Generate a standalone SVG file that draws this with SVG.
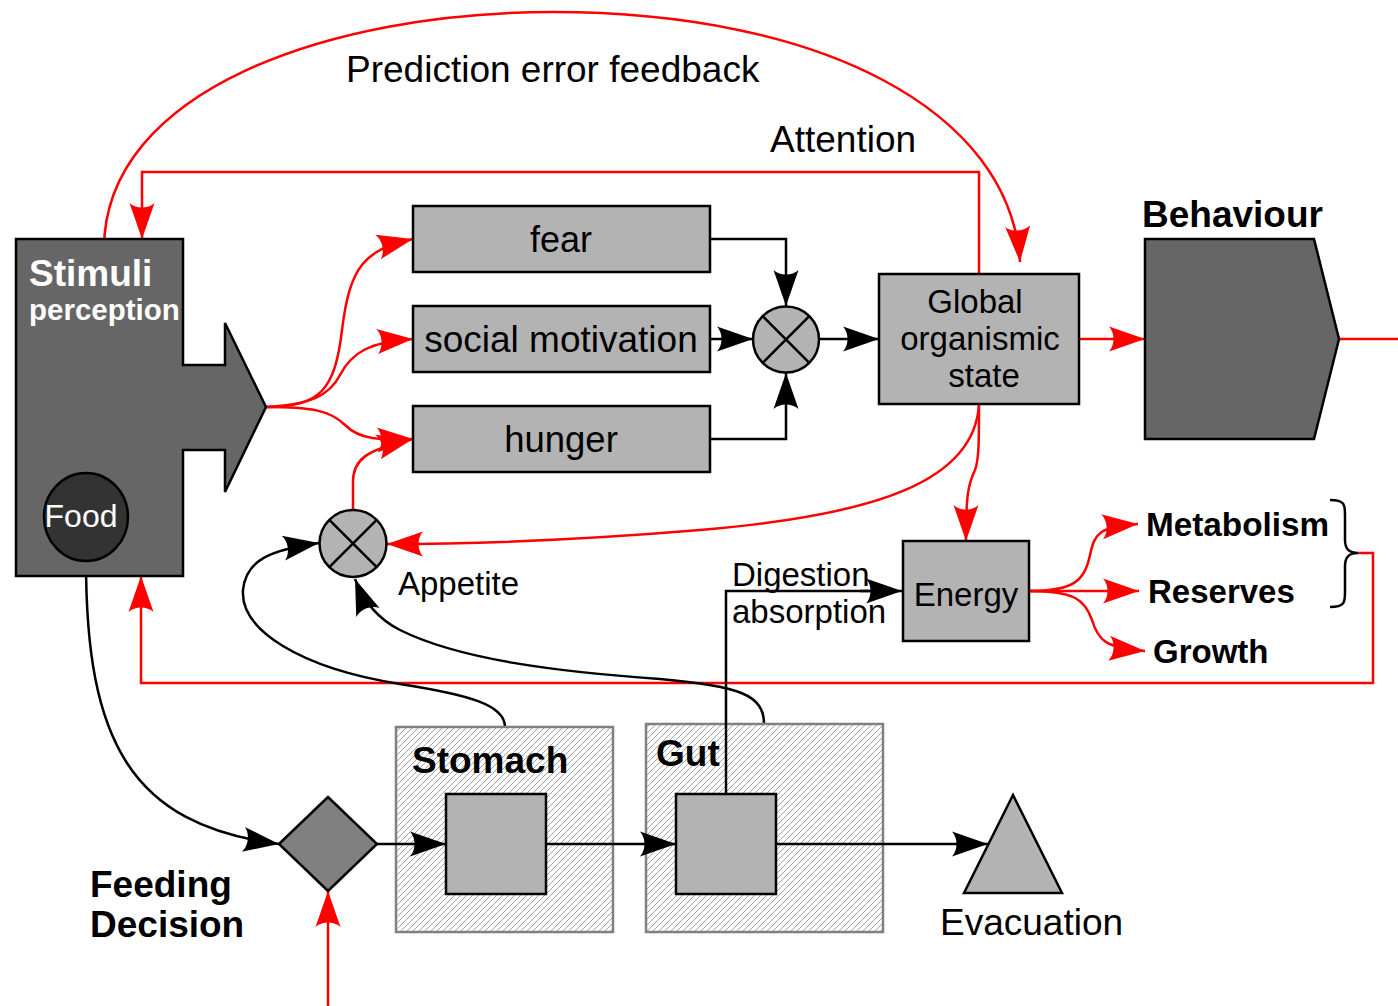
<svg xmlns="http://www.w3.org/2000/svg" width="1398" height="1006" viewBox="0 0 1398 1006">
<style>
.box{fill:#b3b3b3;stroke:#000;stroke-width:2.5}
.dark{fill:#666;stroke:#000;stroke-width:2.5}
.hatch{fill:url(#hp);stroke:#808080;stroke-width:2.5}
.t{font-family:"Liberation Sans",Arial,sans-serif;fill:#000}
.b{font-family:"Liberation Sans",Arial,sans-serif;font-weight:bold;fill:#000}
.k{fill:none;stroke:#000;stroke-width:2.5}
.r{fill:none;stroke:#f00;stroke-width:2.5}
.ka{marker-end:url(#ak)}
.ra{marker-end:url(#ar)}
</style>
<defs>
<marker id="ak" markerUnits="userSpaceOnUse" viewBox="-38 -14 40 28" markerWidth="40" markerHeight="28" refX="0" refY="0" orient="auto">
<path d="M0,0 L-36,-12.5 C-30,-6 -30,6 -36,12.5 Z" fill="#000"/>
</marker>
<marker id="ar" markerUnits="userSpaceOnUse" viewBox="-38 -14 40 28" markerWidth="40" markerHeight="28" refX="0" refY="0" orient="auto">
<path d="M0,0 L-36,-12.5 C-30,-6 -30,6 -36,12.5 Z" fill="#f00"/>
</marker>
<pattern id="hp" patternUnits="userSpaceOnUse" width="6" height="6">
<rect width="6" height="6" fill="#fff"/>
<path d="M0,6 L6,0 M-1,1 L1,-1 M5,7 L7,5" stroke="#999" stroke-width="0.9"/>
</pattern>
</defs>

<g id="connectors">
<path class="r ra" d="M104,249 C104,90 330,12 553,12 C820,12 1010,110 1020,262"/>
<path class="r ra" d="M979,274 L979,172 L142,172 L142,239"/>
<path class="r ra" d="M266,407 C320,407 335,390 342,330 C350,265 365,250 413,239"/>
<path class="r ra" d="M266,407 C310,405 330,395 340,375 C352,352 370,342 413,339"/>
<path class="r ra" d="M266,407 C310,407 330,410 345,425 C360,440 380,440 413,439"/>
<path class="r ra" d="M353,510 L353,482 C353,460 365,450 413,439"/>
<path class="r ra" d="M979,404 C975,480 880,515 700,530 C580,540 480,544 387,544"/>
<path class="r ra" d="M979,404 C979,440 979,460 975,470 C968,485 966,495 966,541"/>
<path class="r ra" d="M1079,339 L1145,339"/>
<path class="r" d="M1339,339 L1398,339"/>
<path class="r ra" d="M1029,591 C1075,591 1085,580 1090,555 C1095,532 1100,527 1138,524"/>
<path class="r ra" d="M1029,591 L1139,591"/>
<path class="r ra" d="M1029,591 C1075,591 1085,600 1092,620 C1098,640 1105,648 1145,651"/>
<path class="r ra" d="M1358,553 L1373,553 L1373,683 L141,683 L141,576"/>
<path class="r ra" d="M328,1006 L328,891"/>
<path class="k" d="M1330,500 C1345,500 1345,505 1345,515 L1345,540 C1345,550 1350,553 1358,553 C1350,553 1345,556 1345,566 L1345,592 C1345,602 1345,607 1330,607" stroke-width="2"/>
<path class="k ka" d="M710,239 L786,239 L786,306"/>
<path class="k ka" d="M710,339 L753,339"/>
<path class="k ka" d="M710,439 L786,439 L786,373"/>
<path class="k ka" d="M819,339 L879,339"/>
<path class="k ka" d="M505,727 C505,705 470,695 400,684 C300,668 240,630 243,590 C246,560 270,550 319,543"/>
<path class="k ka" d="M764,724 C764,695 740,686 660,679 C560,672 460,660 400,630 C380,620 365,605 355,579"/>
<path class="k ka" d="M86,561 C86,740 130,825 279,844"/>
</g>

<g id="stimuli">
<path class="dark" d="M16,239 L183,239 L183,365 L225,365 L225,323 L266,407 L225,492 L225,450 L183,450 L183,576 L16,576 Z"/>
<text x="29" y="286" font-size="37" class="b" style="fill:#fff">Stimuli</text>
<text x="29" y="320" font-size="29.5" class="b" style="fill:#fff">perception</text>
</g>
<g id="food">
<ellipse cx="86" cy="517" rx="42" ry="44" fill="#333" stroke="#000" stroke-width="2.5"/>
<text x="81" y="527" font-size="32" class="t" text-anchor="middle" style="fill:#fff">Food</text>
</g>
<g id="fear">
<rect class="box" x="413" y="206" width="297" height="66"/>
<text x="561" y="252" font-size="36" class="t" text-anchor="middle">fear</text>
</g>
<g id="social">
<rect class="box" x="413" y="306" width="297" height="66"/>
<text x="561" y="352" font-size="37" class="t" text-anchor="middle">social motivation</text>
</g>
<g id="hunger">
<rect class="box" x="413" y="406" width="297" height="66"/>
<text x="561" y="452" font-size="36.5" class="t" text-anchor="middle">hunger</text>
</g>
<g id="sum">
<circle cx="786" cy="339.5" r="33" class="box"/>
<path d="M762.7,316.2 L809.3,362.8 M809.3,316.2 L762.7,362.8" stroke="#000" stroke-width="2.5"/>
</g>
<g id="global">
<rect class="box" x="879" y="274" width="200" height="130"/>
<text x="975" y="313" font-size="33" class="t" text-anchor="middle">Global</text>
<text x="980" y="350" font-size="33" class="t" text-anchor="middle">organismic</text>
<text x="984" y="387" font-size="33" class="t" text-anchor="middle">state</text>
</g>
<g id="behaviour">
<polygon class="dark" points="1145,239 1314,239 1339,339 1314,439 1145,439"/>
<text x="1142" y="227" font-size="37" class="b">Behaviour</text>
</g>
<g id="appetite">
<circle cx="353" cy="543.5" r="33.5" class="box"/>
<path d="M329.3,519.8 L376.7,567.2 M376.7,519.8 L329.3,567.2" stroke="#000" stroke-width="2.5"/>
<text x="398" y="595" font-size="33" class="t">Appetite</text>
</g>
<g id="energy">
<rect class="box" x="903" y="541" width="126" height="100"/>
<text x="966" y="606" font-size="33" class="t" text-anchor="middle">Energy</text>
</g>
<g id="digestion-label">
<text x="732" y="586" font-size="33" class="t">Digestion</text>
<text x="732" y="623" font-size="33" class="t">absorption</text>
</g>
<g id="outputs">
<text x="1146" y="536" font-size="33.3" class="b">Metabolism</text>
<text x="1148" y="603" font-size="33" class="b">Reserves</text>
<text x="1153" y="663" font-size="33" class="b">Growth</text>
</g>
<g id="stomach">
<rect class="hatch" x="396" y="727" width="217" height="205"/>
<text x="412" y="773" font-size="37" class="b">Stomach</text>
<rect class="box" x="446" y="794" width="100" height="100"/>
</g>
<g id="gut">
<rect class="hatch" x="646" y="724" width="237" height="208"/>
<text x="656" y="766" font-size="37" class="b">Gut</text>
<rect class="box" x="676" y="794" width="100" height="100"/>
</g>
<path class="k" d="M726,794 L726,591 L870,591"/>
<g id="decision">
<polygon points="279,844 328,797 377,844 328,891" fill="#808080" stroke="#000" stroke-width="2.5"/>
<text x="90" y="897" font-size="37" class="b">Feeding</text>
<text x="90" y="937" font-size="37" class="b">Decision</text>
</g>
<g id="evacuation">
<polygon points="964,893 1013,795 1062,893" class="box"/>
<text x="940" y="935" font-size="37" class="t">Evacuation</text>
</g>
<g id="labels">
<text x="346" y="82" font-size="37" class="t">Prediction error feedback</text>
<text x="770" y="152" font-size="37" class="t">Attention</text>
</g>
<g id="connectors-top">
<path class="k ka" d="M377,844 L446,844"/>
<path class="k ka" d="M547,844 L676,844"/>
<path class="k ka" d="M776,844 L988,844"/>
<path class="k ka" d="M860,591 L902,591"/>
</g>
</svg>
